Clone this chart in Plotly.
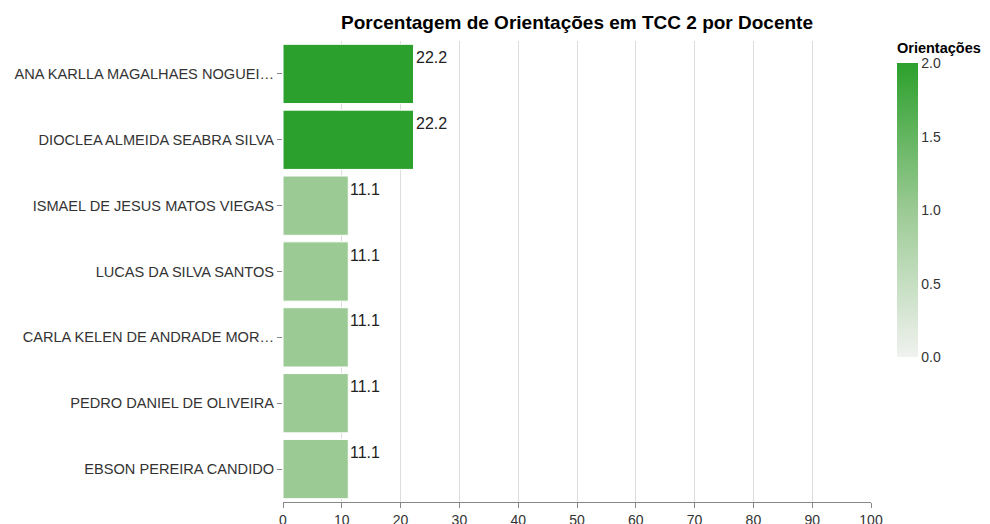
import plotly.graph_objects as go

docentes = [
    "ANA KARLLA MAGALHAES NOGUEI…",
    "DIOCLEA ALMEIDA SEABRA SILVA",
    "ISMAEL DE JESUS MATOS VIEGAS",
    "LUCAS DA SILVA SANTOS",
    "CARLA KELEN DE ANDRADE MOR…",
    "PEDRO DANIEL DE OLIVEIRA",
    "EBSON PEREIRA CANDIDO",
]
porcentagem = [22.2, 22.2, 11.1, 11.1, 11.1, 11.1, 11.1]
orientacoes = [2, 2, 1, 1, 1, 1, 1]
x_ticks = [0, 10, 20, 30, 40, 50, 60, 70, 80, 90, 100]

font = "Liberation Sans, Arial, sans-serif"

fig = go.Figure(go.Bar(
    x=porcentagem,
    y=docentes,
    orientation="h",
    marker=dict(
        color=orientacoes,
        coloraxis="coloraxis",
        line=dict(color="white", width=1),
    ),
    hovertemplate="%{y}<br>%{x}%<extra></extra>",
))

# value labels sit at the top-right of each bar end
for nome, val in zip(docentes, porcentagem):
    fig.add_annotation(
        x=val, y=nome, text=f"{val:.1f}",
        xanchor="left", yanchor="top", yshift=27, xshift=0,
        showarrow=False, font=dict(family=font, size=16, color="#222"),
    )

# legend title for the colour bar
fig.add_annotation(
    x=1.041, y=0.985, xref="paper", yref="paper",
    xanchor="left", yanchor="middle", showarrow=False,
    text="<b>Orientações</b>",
    font=dict(family=font, size=14.5, color="#000"),
)

# the page body adds an 8px offset, so the figure is 982x516
fig.update_layout(
    width=982, height=516,
    margin=dict(l=275, r=119, t=33, b=22, autoexpand=False),
    plot_bgcolor="white", paper_bgcolor="white",
    font=dict(family=font, size=14, color="#333"),
    bargap=0.1,
    showlegend=False,
    title=dict(
        text="<b>Porcentagem de Orientações em TCC 2 por Docente</b>",
        x=0.5, xref="paper", xanchor="center",
        y=1 - 14 / 516, yanchor="middle",
        font=dict(family=font, size=19, color="#000"),
    ),
    coloraxis=dict(
        cmin=0, cmax=2,
        colorscale=[[0, "#f0f2ef"], [0.5, "#9bca94"], [1, "#2ca02c"]],
        colorbar=dict(
            x=1.044, xanchor="left", xref="paper",
            y=0.952, yanchor="top",
            len=294, lenmode="pixels",
            thickness=21, outlinewidth=0,
            tickvals=[0, 0.5, 1, 1.5, 2],
            ticktext=["0.0", "0.5", "1.0", "1.5", "2.0"],
            ticks="", ticklabelposition="outside",
            tickfont=dict(family=font, size=14, color="#333"),
            ypad=0, xpad=0,
        ),
    ),
)

fig.update_xaxes(
    range=[0, 100], tickvals=x_ticks,
    showgrid=True, gridcolor="#dddddd", gridwidth=1,
    showline=True, linecolor="#888", linewidth=1,
    ticks="outside", ticklen=5, tickcolor="#888",
    zeroline=False, fixedrange=True, automargin=False,
    tickfont=dict(family=font, size=14, color="#333"),
)
fig.update_yaxes(
    autorange="reversed",
    categoryorder="array", categoryarray=docentes,
    ticks="outside", ticklen=5, tickcolor="#888",
    showline=False, showgrid=False, automargin=False,
    tickfont=dict(family=font, size=14.6, color="#333"),
)

fig.write_html("out.html")
